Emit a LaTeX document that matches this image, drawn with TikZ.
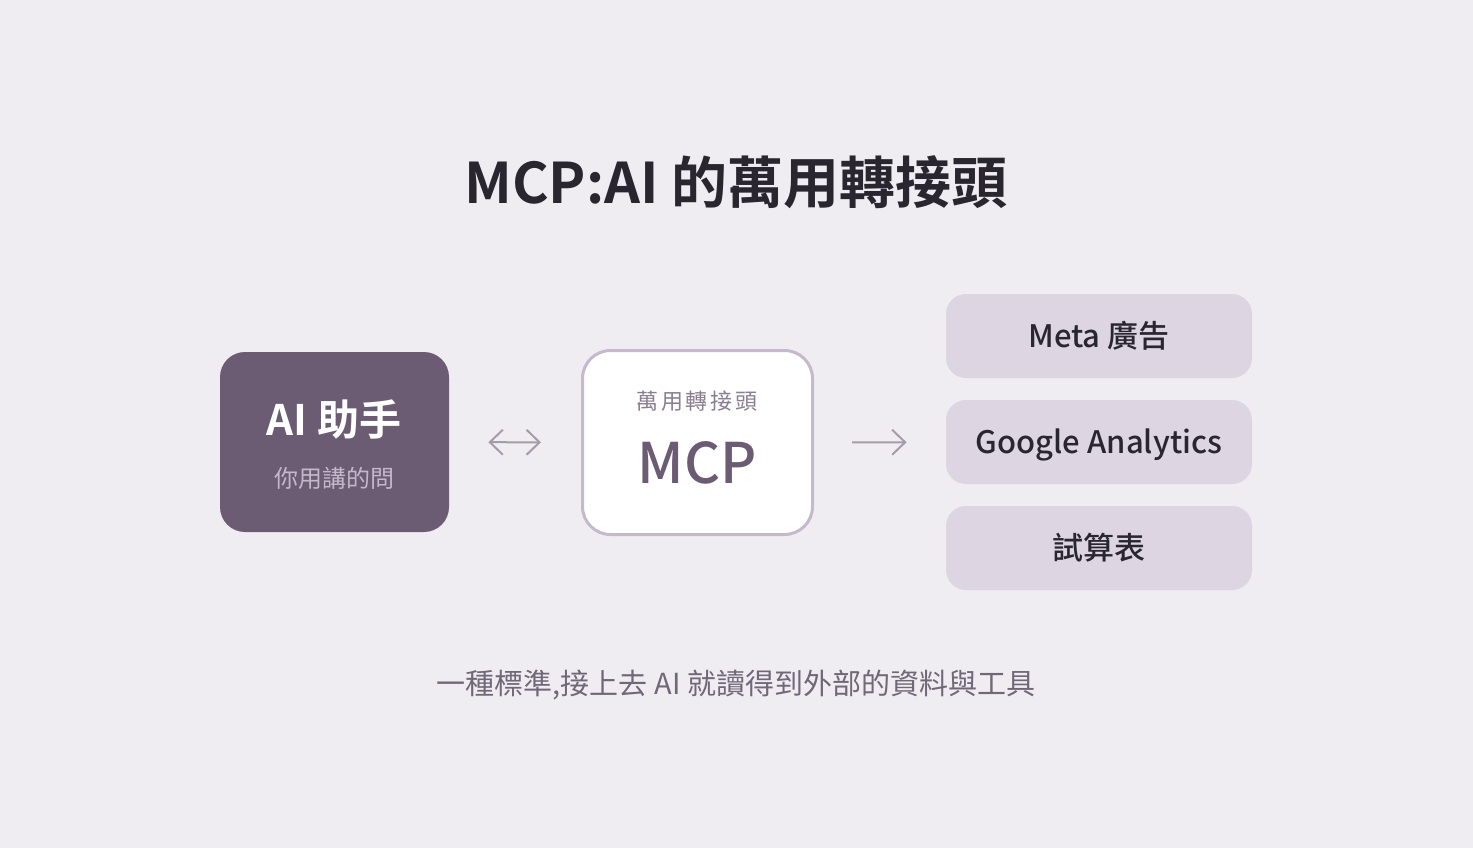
\documentclass[tikz,border=0pt]{standalone}
\usepackage{fontspec}
\setmainfont{Noto Sans CJK TC}[BoldFont={Noto Sans CJK TC Bold}]
\newfontfamily\medfont{Noto Sans CJK TC Medium}
\usetikzlibrary{arrows.meta}
\definecolor{bgC}{RGB}{240,237,242}
\definecolor{darkC}{RGB}{107,91,115}
\definecolor{lightC}{RGB}{221,213,225}
\definecolor{rimC}{RGB}{197,186,204}
\definecolor{inkC}{RGB}{42,38,48}
\definecolor{greyC}{RGB}{111,104,120}
\definecolor{paleC}{RGB}{196,183,203}
\definecolor{midC}{RGB}{138,126,146}
\definecolor{arrC}{RGB}{165,156,170}
\tikzset{
	boxA/.style={
		fill=darkC, rounded corners=12.5pt, inner sep=0pt,
		minimum width=114.5pt, minimum height=90pt
	},
	boxB/.style={
		fill=white, draw=rimC, line width=1.5pt, rounded corners=14pt, inner sep=0pt,
		minimum width=115pt, minimum height=92pt
	},
	boxC/.style={
		fill=lightC, rounded corners=10pt, inner sep=0pt,
		minimum width=153pt, minimum height=42pt,
		font={\medfont\fontsize{15.5}{18}\selectfont}, text=inkC,
		text height=11pt, text depth=0pt
	},
	lineA/.style={draw=arrC, line width=1pt},
	>={Straight Barb[length=6.5pt,width=12.5pt]},
}

\begin{document}
\begin{tikzpicture}[
x=0.5pt, y=-0.5pt,
every node/.style={inner sep=0pt},
]
\fill[bgC] (0,0) rectangle (1473,848);
\node [text=inkC, font={\bfseries\fontsize{28}{32}\selectfont}] (title) at (736,182) {MCP:AI 的萬用轉接頭};

% left
\node [boxA] (ai) at (334.5,442) {};
\node [text=white, font={\bfseries\fontsize{21}{24}\selectfont}] (aiName) at (334,419) {AI 助手};
\node [text=paleC, font={\fontsize{12}{14}\selectfont}] (aiSub) at (334,478) {你用講的問};

% middle
\node [boxB] (mcp) at (697.5,442.5) {};
\node [text=midC, font={\addfontfeature{LetterSpace=12}\fontsize{11}{13}\selectfont}] (mcpSub) at (697,401) {萬用轉接頭};
\node [text=darkC, font={\medfont\fontsize{28}{32}\selectfont}] (mcpName) at (697,463) {MCP};

% right
\node [boxC] (meta) at (1099,336) {Meta 廣告};
\node [boxC] (ga) at (1099,442) {Google Analytics};
\node [boxC] (sheet) at (1099,548) {試算表};

\path [lineA, <->, shorten <=19.5pt, shorten >=20pt] (ai) edge (mcp);
\path [lineA, ->, shorten <=19pt, shorten >=19.5pt] (mcp) edge (ga);

\node [text=greyC, font={\fontsize{14.5}{17}\selectfont}] (note) at (736,685) {一種標準,接上去 AI 就讀得到外部的資料與工具};
\end{tikzpicture}
\end{document}
